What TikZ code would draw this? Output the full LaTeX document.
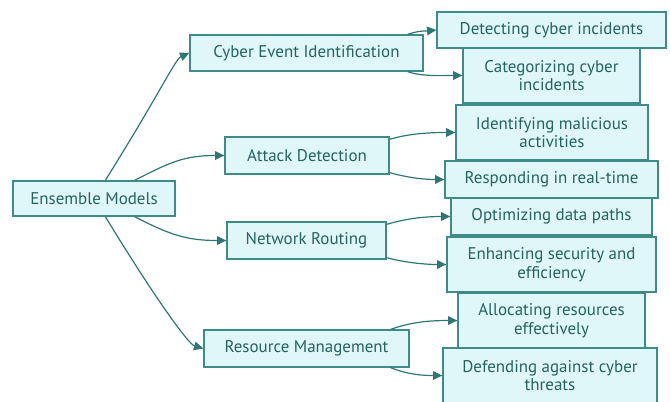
\documentclass[tikz,border=0pt]{standalone}
\usepackage{fontspec}
\setmainfont{PT Sans}
\usetikzlibrary{arrows.meta,calc}
\definecolor{boxfill}{HTML}{DFF7F8}
\definecolor{boxline}{HTML}{3E8C87}
\definecolor{boxtext}{HTML}{24635E}
\definecolor{edgeline}{HTML}{2E7772}
\tikzset{
  box/.style={draw=boxline, fill=boxfill, line width=1pt, text=boxtext,
    font=\fontsize{12.7}{14}\selectfont, align=center, inner sep=0pt},
  link/.style={draw=edgeline, line width=0.9pt, -{Triangle[length=7pt,width=6.5pt]}},
}
\begin{document}
\begin{tikzpicture}[x=0.75pt,y=-0.75pt]
\useasboundingbox (0,0) rectangle (670,401);
% root
\node[box, minimum width=121.5pt, minimum height=26.25pt] (E) at (94,198.5) {Ensemble Models};
% middle level
\node[box, minimum width=174.75pt, minimum height=27pt] (C) at (306.5,53) {Cyber Event Identification};
\node[box, minimum width=123pt, minimum height=27.75pt] (A) at (307,155.5) {Attack Detection};
\node[box, minimum width=119.25pt, minimum height=27.75pt] (N) at (306.5,240.5) {Network Routing};
\node[box, minimum width=153.75pt, minimum height=27.75pt] (R) at (306.5,348.5) {Resource Management};
% leaves
\node[box, minimum width=171.75pt, minimum height=27pt] (D1) at (551.5,30) {Detecting cyber incidents};
\node[box, minimum width=132.75pt, minimum height=41.25pt] (D2) at (551.5,75.5) {Categorizing cyber\\incidents};
\node[box, minimum width=144pt, minimum height=41.25pt] (D3) at (552,132.5) {Identifying malicious\\activities};
\node[box, minimum width=159.75pt, minimum height=27.75pt] (D4) at (551.5,179.5) {Responding in real-time};
\node[box, minimum width=150.75pt, minimum height=27.75pt] (D5) at (551.5,216.5) {Optimizing data paths};
\node[box, minimum width=156.75pt, minimum height=41.25pt] (D6) at (551.5,264.5) {Enhancing security and\\efficiency};
\node[box, minimum width=140.25pt, minimum height=41.25pt] (D7) at (551.5,320.5) {Allocating resources\\effectively};
\node[box, minimum width=160.5pt, minimum height=41.25pt] (D8) at (550,375.5) {Defending against cyber\\threats};
% root to middle level
\draw[link] ($(E.north west)+(93,0)$) .. controls +(55,-88) and +(-14,6) .. (C.west);
\draw[link] ($(E.north east)+(-41,0)$) .. controls +(35,-18) and +(-40,0) .. (A.west);
\draw[link] ($(E.south east)+(-41,0)$) .. controls +(35,18) and +(-40,0) .. (N.west);
\draw[link] ($(E.south west)+(93,0)$) .. controls +(55,90) and +(-14,-4) .. (R.west);
% middle level to leaves
\draw[link] ($(C.north east)+(-16,0)$) .. controls +(12,-4) and +(-10,1) .. (D1.west);
\draw[link] ($(C.south east)+(-16,0)$) .. controls +(14,5) and +(-20,0) .. (D2.west);
\draw[link] ($(A.north east)+(0,3)$) .. controls +(20,-6) and +(-25,0) .. (D3.west);
\draw[link] ($(A.south east)+(0,-2)$) .. controls +(18,5) and +(-20,0) .. (D4.west);
\draw[link] ($(N.north east)+(0,3)$) .. controls +(20,-6) and +(-25,0) .. (D5.west);
\draw[link] ($(N.south east)+(0,-2)$) .. controls +(18,5) and +(-20,0) .. (D6.west);
\draw[link] ($(R.north east)+(-19,0)$) .. controls +(20,-7) and +(-30,0) .. (D7.west);
\draw[link] ($(R.south east)+(-19,0)$) .. controls +(18,7) and +(-20,0) .. (D8.west);
\end{tikzpicture}
\end{document}
